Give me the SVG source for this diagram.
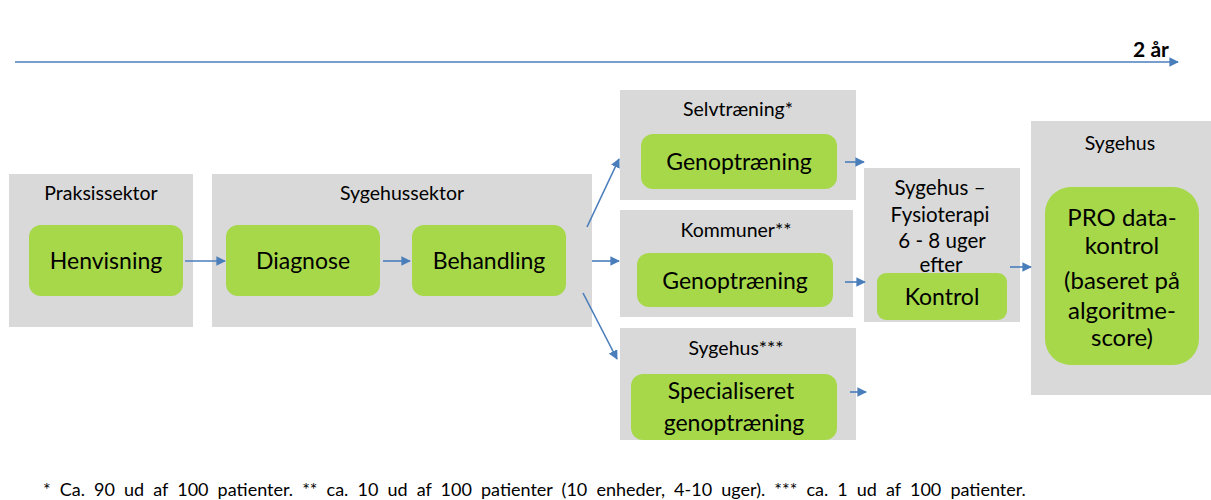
<svg xmlns="http://www.w3.org/2000/svg" width="1211" height="500" viewBox="0 0 1211 500">
<style>
.sec{fill:#d9d9d9}
.grn{fill:#a6d84a}
.t{font-family:Lato,"Liberation Sans",sans-serif;fill:#000;text-anchor:middle}
.ttl{font-size:19.5px}
.fy{font-size:20.5px}
.lbl{font-size:23px}
.big{font-size:24px}
.cn{stroke:#4a7ebb;stroke-width:1.6;fill:none;marker-end:url(#ah)}
</style>
<defs>
<marker id="ah" viewBox="0 0 10 10" refX="9" refY="5" markerWidth="6" markerHeight="6" orient="auto" markerUnits="strokeWidth">
<path d="M0,0 L10,5 L0,10 z" fill="#4a7ebb"/>
</marker>
</defs>
<rect width="1211" height="500" fill="#fff"/>

<g id="timeline">
<line x1="15" y1="62" x2="1178" y2="62" class="cn"/>
<text x="1151" y="57" class="t" font-size="21" font-weight="bold">2 år</text>
</g>

<g id="praksissektor">
<rect class="sec" x="9" y="174" width="184" height="153"/>
<text x="101" y="200" class="t ttl">Praksissektor</text>
</g>
<g id="henvisning">
<rect class="grn" x="29" y="225" width="154" height="71" rx="12"/>
<text x="106" y="269" class="t lbl">Henvisning</text>
</g>

<g id="sygehussektor">
<rect class="sec" x="212" y="174" width="380" height="153"/>
<text x="402" y="200" class="t ttl">Sygehussektor</text>
</g>
<g id="diagnose">
<rect class="grn" x="226" y="225" width="154" height="71" rx="12"/>
<text x="303" y="269" class="t lbl">Diagnose</text>
</g>
<g id="behandling">
<rect class="grn" x="412" y="225" width="154" height="71" rx="12"/>
<text x="489" y="269" class="t lbl">Behandling</text>
</g>

<g id="selvtraening">
<rect class="sec" x="620" y="90" width="236" height="110"/>
<text x="738" y="116" class="t ttl">Selvtræning*</text>
<rect class="grn" x="641" y="134" width="196" height="55" rx="12"/>
<text x="739" y="170" class="t lbl">Genoptræning</text>
</g>

<g id="kommuner">
<rect class="sec" x="620" y="210" width="233" height="107"/>
<text x="736" y="237" class="t ttl">Kommuner**</text>
<rect class="grn" x="637" y="253" width="196" height="54" rx="12"/>
<text x="735" y="289" class="t lbl">Genoptræning</text>
</g>

<g id="sygehus3">
<rect class="sec" x="620" y="328" width="236" height="112"/>
<text x="736" y="355" class="t ttl">Sygehus***</text>
<rect class="grn" x="631" y="374" width="206" height="66" rx="12"/>
<text x="731" y="399" class="t lbl">Specialiseret</text>
<text x="734" y="431" class="t lbl">genoptræning</text>
</g>

<g id="fysioterapi">
<rect class="sec" x="864" y="168" width="156" height="154"/>
<text x="940" y="195" class="t fy">Sygehus –</text>
<text x="940" y="222" class="t fy">Fysioterapi</text>
<text x="942" y="248" class="t fy">6 - 8 uger</text>
<text x="941" y="272" class="t fy">efter</text>
<rect class="grn" x="877" y="273" width="130" height="47" rx="9"/>
<text x="942" y="305" class="t lbl">Kontrol</text>
</g>

<g id="sygehus">
<rect class="sec" x="1031" y="121" width="180" height="274"/>
<text x="1120" y="150" class="t ttl">Sygehus</text>
<rect class="grn" x="1045" y="187" width="154" height="178" rx="26"/>
<text x="1122" y="226" class="t big">PRO data-</text>
<text x="1122" y="254" class="t big">kontrol</text>
<text x="1122" y="289" class="t big">(baseret på</text>
<text x="1122" y="319" class="t big">algoritme-</text>
<text x="1122" y="346" class="t big">score)</text>
</g>

<g id="connectors">
<line class="cn" x1="185" y1="261" x2="225" y2="261"/>
<line class="cn" x1="383" y1="261" x2="410" y2="261"/>
<line class="cn" x1="587" y1="227" x2="619" y2="159"/>
<line class="cn" x1="592" y1="261" x2="619" y2="261"/>
<line class="cn" x1="583" y1="293" x2="617" y2="359"/>
<line class="cn" x1="845" y1="162" x2="864" y2="162"/>
<line class="cn" x1="845" y1="282" x2="865" y2="282"/>
<line class="cn" x1="850" y1="392" x2="866" y2="392"/>
<line class="cn" x1="1010" y1="267" x2="1031" y2="267"/>
</g>

<text x="43" y="496" font-family="Lato,'Liberation Sans',sans-serif" font-size="18" word-spacing="4.5">* Ca. 90 ud af 100 patienter. ** ca. 10 ud af 100 patienter (10 enheder, 4-10 uger). *** ca. 1 ud af 100 patienter.</text>
</svg>
